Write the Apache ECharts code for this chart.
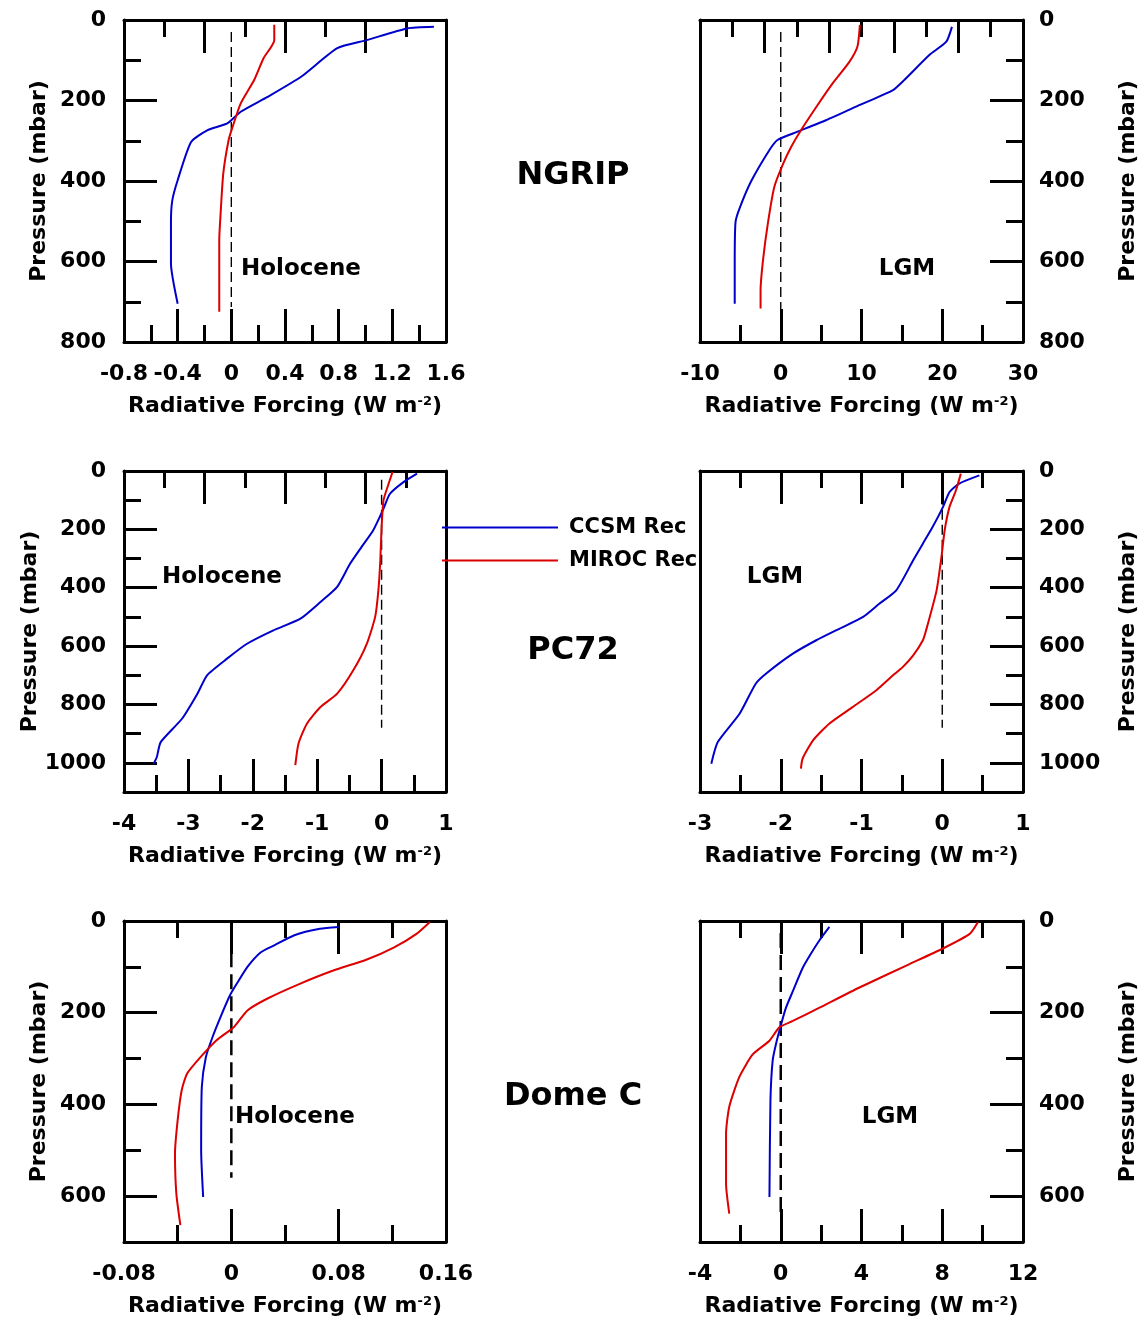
<!DOCTYPE html>
<html>
<head>
<meta charset="utf-8">
<script src="https://cdn.jsdelivr.net/npm/echarts@6/dist/echarts.min.js"></script>
<style>
html,body{margin:0;padding:0;background:#fff;}
#chart{width:1145px;height:1319px;}
</style>
</head>
<body>
<div id="chart"></div>
<script>
// ---------------- DATA ----------------
const seriesNames = ['CCSM Rec', 'MIROC Rec'];
const siteTitles = ['NGRIP', 'PC72', 'Dome C'];
const periodLabels = ['Holocene', 'LGM', 'Holocene', 'LGM', 'Holocene', 'LGM'];

// axis ranges per panel (NGRIP Hol, NGRIP LGM, PC72 Hol, PC72 LGM, DomeC Hol, DomeC LGM)
const xMin = [-0.8, -10, -4, -3, -0.08, -4];
const xMax = [1.6, 30, 1, 1, 0.16, 12];
const xStep = [0.4, 10, 1, 1, 0.08, 4];
const yMax = [800, 800, 1100, 1100, 700, 700];
const yStep = [200, 200, 200, 200, 200, 200];
const topTickCount = [8, 10, 8, 8, 6, 8];

// NGRIP Holocene
const ngripHolCcsmP  = [17, 21, 50, 70, 141, 191, 228, 257, 274, 303, 398, 448, 502, 605, 705];
const ngripHolCcsmRF = [1.51, 1.31, 1.01, 0.79, 0.52, 0.27, 0.07, -0.03, -0.18, -0.30, -0.40, -0.44, -0.45, -0.45, -0.40];
const ngripHolMirocP  = [12, 50, 95, 149, 207, 265, 298, 381, 481, 547, 725];
const ngripHolMirocRF = [0.32, 0.32, 0.24, 0.17, 0.07, 0.01, -0.02, -0.06, -0.08, -0.09, -0.09];
// NGRIP LGM
const ngripLgmCcsmP  = [17, 54, 87, 149, 174, 211, 249, 282, 298, 323, 402, 468, 502, 605, 705];
const ngripLgmCcsmRF = [21.2, 20.5, 18.4, 15.3, 13.9, 9.8, 5.6, 1.5, -0.4, -1.4, -3.7, -5.1, -5.6, -5.7, -5.7];
const ngripLgmMirocP  = [12, 66, 104, 158, 216, 274, 315, 357, 415, 506, 597, 672, 717];
const ngripLgmMirocRF = [9.8, 9.5, 8.5, 6.4, 4.4, 2.5, 1.3, 0.3, -0.8, -1.6, -2.2, -2.5, -2.5];
// PC72 Holocene
const pcHolCcsmP  = [9, 38, 78, 129, 203, 260, 318, 397, 449, 506, 546, 592, 643, 700, 763, 849, 929, 980, 1003];
const pcHolCcsmRF = [0.55, 0.34, 0.13, 0.03, -0.13, -0.31, -0.49, -0.69, -0.95, -1.26, -1.68, -2.09, -2.40, -2.71, -2.86, -3.10, -3.43, -3.49, -3.54];
const pcHolMirocP  = [3, 43, 100, 192, 306, 409, 500, 592, 683, 763, 809, 866, 934, 1008];
const pcHolMirocRF = [0.17, 0.11, 0.03, 0.0, -0.02, -0.05, -0.10, -0.23, -0.44, -0.69, -0.95, -1.16, -1.29, -1.34];
// PC72 LGM
const pcLgmCcsmP  = [15, 43, 72, 123, 192, 249, 306, 409, 455, 500, 540, 580, 626, 694, 729, 832, 929, 1003];
const pcLgmCcsmRF = [0.46, 0.21, 0.09, 0.01, -0.12, -0.24, -0.36, -0.57, -0.78, -0.98, -1.27, -1.56, -1.85, -2.18, -2.31, -2.51, -2.78, -2.86];
const pcLgmMirocP  = [9, 66, 123, 203, 295, 409, 546, 580, 632, 672, 700, 752, 809, 866, 923, 986, 1020];
const pcLgmMirocRF = [0.23, 0.17, 0.09, 0.03, -0.01, -0.07, -0.20, -0.24, -0.36, -0.49, -0.61, -0.82, -1.11, -1.40, -1.60, -1.73, -1.75];
// Dome C Holocene
const domeHolCcsmP  = [13, 17, 31, 53, 68, 100, 137, 162, 209, 253, 297, 362, 500, 602];
const domeHolCcsmRF = [0.080, 0.066, 0.047, 0.032, 0.022, 0.012, 0.004, -0.001, -0.008, -0.014, -0.019, -0.022, -0.0225, -0.021];
const domeHolMirocP  = [2, 28, 58, 84, 108, 137, 169, 195, 231, 260, 297, 333, 369, 434, 507, 594, 663];
const domeHolMirocRF = [0.148, 0.138, 0.121, 0.101, 0.076, 0.051, 0.027, 0.012, 0.002, -0.011, -0.023, -0.033, -0.037, -0.040, -0.042, -0.041, -0.038];
// Dome C LGM
const domeLgmCcsmP  = [13, 42, 71, 102, 153, 189, 225, 267, 304, 391, 602];
const domeLgmCcsmRF = [2.41, 1.92, 1.50, 1.09, 0.60, 0.26, 0.02, -0.23, -0.40, -0.51, -0.56];
const domeLgmMirocP  = [2, 28, 60, 94, 145, 189, 218, 232, 261, 291, 340, 405, 464, 573, 638];
const domeLgmMirocRF = [9.77, 9.36, 8.03, 6.38, 3.90, 1.92, 0.60, -0.07, -0.56, -1.39, -2.05, -2.55, -2.71, -2.71, -2.55];

// vertical zero reference line extents (pressure, mbar)
const zeroLineP = [[30, 713], [30, 720], [30, 880], [30, 880], [20, 560], [26, 637]];

const panelCurves = [
  [[ngripHolCcsmRF, ngripHolCcsmP], [ngripHolMirocRF, ngripHolMirocP]],
  [[ngripLgmCcsmRF, ngripLgmCcsmP], [ngripLgmMirocRF, ngripLgmMirocP]],
  [[pcHolCcsmRF, pcHolCcsmP], [pcHolMirocRF, pcHolMirocP]],
  [[pcLgmCcsmRF, pcLgmCcsmP], [pcLgmMirocRF, pcLgmMirocP]],
  [[domeHolCcsmRF, domeHolCcsmP], [domeHolMirocRF, domeHolMirocP]],
  [[domeLgmCcsmRF, domeLgmCcsmP], [domeLgmMirocRF, domeLgmMirocP]]
];

// ---------------- LAYOUT / STYLE ----------------
const FONT = '"DejaVu Sans", "Liberation Sans", Arial, sans-serif';
const colors = ['#0000cc', '#dd0000'];
const colLeft = [124, 700];
const colWidth = [322, 323];
const rowTop = [20, 471, 921];
const rowHeight = [322, 321, 321];
const LW = 3, LONG = 33, SHORT = 17;

const grids = [], xAxes = [], yAxes = [], series = [];
const lineStyle = { color: '#000', width: LW };
const numFmt = v => String(Math.round(v * 1e6) / 1e6);

function zip(a, b) { return a.map((v, i) => [v, b[i]]); }

for (let i = 0; i < 6; i++) {
  const col = i % 2, row = Math.floor(i / 2);
  grids.push({ left: colLeft[col], top: rowTop[row], width: colWidth[col], height: rowHeight[row], containLabel: false });

  // bottom x axis with labels
  const xb = xAxes.length;
  xAxes.push({
    type: 'value', gridIndex: i, position: 'bottom', min: xMin[i], max: xMax[i], interval: xStep[i],
    axisLine: { show: true, onZero: false, lineStyle },
    axisTick: { show: true, inside: true, length: LONG, lineStyle },
    minorTick: { show: true, splitNumber: 2, length: SHORT, lineStyle },
    splitLine: { show: false },
    axisLabel: { margin: 21, color: '#000', fontFamily: FONT, fontWeight: 'bold', fontSize: 22, formatter: numFmt },
    name: 'Radiative Forcing (W m{sup|-2})', nameLocation: 'middle', nameGap: 53,
    nameTextStyle: { color: '#000', fontFamily: FONT, fontWeight: 'bold', fontSize: 22,
      rich: { sup: { color: '#000', fontFamily: FONT, fontWeight: 'bold', fontSize: 13, verticalAlign: 'top' } } }
  });
  // top x axis (ticks only)
  xAxes.push({
    type: 'value', gridIndex: i, position: 'top', min: 0, max: topTickCount[i], interval: 2,
    axisLine: { show: true, onZero: false, lineStyle },
    axisTick: { show: true, inside: true, length: LONG, lineStyle },
    minorTick: { show: true, splitNumber: 2, length: SHORT, lineStyle },
    splitLine: { show: false }, axisLabel: { show: false }
  });

  const labelSide = col === 0 ? 'left' : 'right';
  const otherSide = col === 0 ? 'right' : 'left';
  const ym = yAxes.length;
  yAxes.push({
    type: 'value', gridIndex: i, position: labelSide, inverse: true, min: 0, max: yMax[i], interval: yStep[i],
    axisLine: { show: true, onZero: false, lineStyle },
    axisTick: { show: true, inside: true, length: LONG, lineStyle },
    splitLine: { show: false },
    axisLabel: { margin: col === 0 ? 18 : 16, color: '#000', fontFamily: FONT, fontWeight: 'bold', fontSize: 22,
      showMaxLabel: yMax[i] % yStep[i] === 0, formatter: numFmt },
    name: 'Pressure (mbar)', nameLocation: 'middle', nameRotate: 90,
    nameGap: col === 0 ? (row === 1 ? 81 : 74) : 94,
    nameTextStyle: { color: '#000', fontFamily: FONT, fontWeight: 'bold', fontSize: 22 }
  });
  // minor y ticks
  yAxes.push({
    type: 'value', gridIndex: i, position: labelSide, inverse: true, min: 0, max: yMax[i], interval: yStep[i] / 2,
    axisLine: { show: false, onZero: false },
    axisTick: { show: true, inside: true, length: SHORT, lineStyle },
    splitLine: { show: false }, axisLabel: { show: false }
  });
  // opposite side frame line
  yAxes.push({
    type: 'value', gridIndex: i, position: otherSide, inverse: true, min: 0, max: yMax[i],
    axisLine: { show: true, onZero: false, lineStyle },
    axisTick: { show: false }, splitLine: { show: false }, axisLabel: { show: false }
  });

  // zero dashed line
  const bottomRow = row === 2;
  series.push({
    type: 'line', name: 'zero', xAxisIndex: xb, yAxisIndex: ym, silent: true, symbol: 'none',
    data: [[0, zeroLineP[i][0]], [0, zeroLineP[i][1]]],
    lineStyle: { color: '#000', width: bottomRow ? 2.5 : 1.4, type: bottomRow ? [15, 7] : [10, 5] },
    z: 1
  });
  // curves
  panelCurves[i].forEach((c, k) => {
    series.push({
      type: 'line', name: seriesNames[k], xAxisIndex: xb, yAxisIndex: ym, symbol: 'none', showSymbol: false,
      smooth: 0.2,
      data: zip(c[0], c[1]), lineStyle: { color: colors[k], width: 2 }, itemStyle: { color: colors[k] },
      z: 3
    });
  });
}

const graphics = [];
const titleY = [176, 651, 1097];
siteTitles.forEach((t, r) => graphics.push({
  type: 'text',
  style: { text: t, x: 573, y: titleY[r], textAlign: 'center', textVerticalAlign: 'middle',
    font: 'bold 32px ' + FONT, fill: '#000' }
}));
const labelPos = [[241, 269, 'left'], [907, 269, 'center'], [162, 577, 'left'], [775, 577, 'center'], [235, 1117, 'left'], [890, 1117, 'center']];
periodLabels.forEach((t, i) => graphics.push({
  type: 'text',
  style: { text: t, x: labelPos[i][0], y: labelPos[i][1], textAlign: labelPos[i][2], textVerticalAlign: 'middle',
    font: 'bold 23px ' + FONT, fill: '#000' }
}));

const chart = echarts.init(document.getElementById('chart'), null, { renderer: 'canvas' });
chart.setOption({
  animation: false,
  backgroundColor: '#fff',
  grid: grids, xAxis: xAxes, yAxis: yAxes, series: series,
  legend: {
    data: seriesNames.map((n, k) => ({ name: n, icon: 'rect', itemStyle: { color: colors[k] } })),
    orient: 'vertical', left: 442, top: 517, padding: 0, itemWidth: 116, itemHeight: 2, itemGap: 12,
    selectedMode: false,
    textStyle: { color: '#000', fontFamily: FONT, fontWeight: 'bold', fontSize: 21, padding: [0, 0, 0, 6] }
  },
  graphic: graphics
});
</script>
</body>
</html>
